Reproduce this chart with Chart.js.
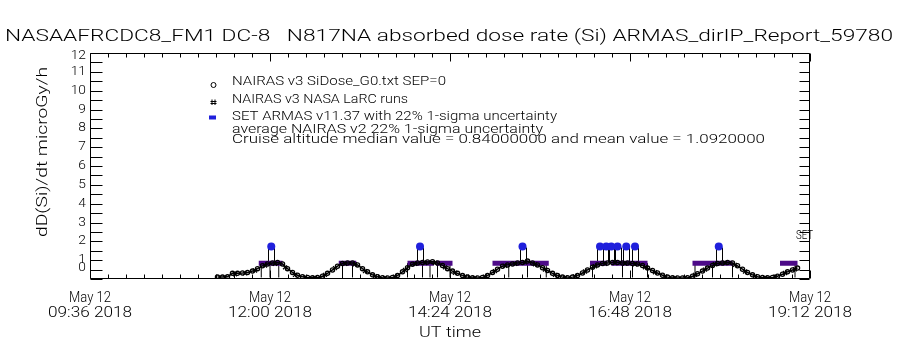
<!DOCTYPE html>
<html><head><meta charset="utf-8">
<style>html,body{margin:0;padding:0;background:#fff}canvas{display:block}</style>
<script src="https://cdn.jsdelivr.net/npm/chart.js@4.4.1/dist/chart.umd.min.js"></script>
</head><body><canvas id="c" width="900" height="350"></canvas>
<script>
// ---- data (time in minutes UT since 00:00, dose in microGy/h) ----
const titleText = "NASAAFRCDC8_FM1 DC-8   N817NA absorbed dose rate (Si) ARMAS_dirIP_Report_59780";
const xTickValues = [576, 720, 864, 1008, 1152];
const xTickLine1 = ["May 12", "May 12", "May 12", "May 12", "May 12"];
const xTickLine2 = ["09:36 2018", "12:00 2018", "14:24 2018", "16:48 2018", "19:12 2018"];
const yTickValues = [0,1,2,3,4,5,6,7,8,9,10,11,12];
const yTickLabels = ["0","1","2","3","4","5","6","7","8","9","10","11","12"];

const nairasTime = [678,682,686,690,694,698,702,706,710,714,
718,722,726,730,734,738,742,746,750,754,
758,762,766,770,774,778,782,786,790,794,
798,802,806,810,814,818,822,826,830,834,
838,842,846,850,854,858,862,866,870,874,
878,882,886,890,894,898,902,906,910,914,
918,922,926,930,934,938,942,946,950,954,
958,962,966,970,974,978,982,986,990,994,
998,1002,1006,1010,1014,1018,1022,1026,1030,1034,
1038,1042,1046,1050,1054,1058,1062,1066,1070,1074,
1078,1082,1086,1090,1094,1098,1102,1106,1110,1114,
1118,1122,1126,1130,1134,1138,1142];
const nairasDose = [0.10,0.10,0.12,0.30,0.30,0.32,0.35,0.42,0.55,0.70,
0.80,0.85,0.88,0.80,0.55,0.35,0.20,0.12,0.08,0.06,
0.08,0.15,0.30,0.48,0.68,0.82,0.85,0.85,0.75,0.55,
0.38,0.22,0.12,0.07,0.05,0.08,0.18,0.38,0.60,0.78,
0.85,0.88,0.90,0.92,0.85,0.72,0.55,0.42,0.30,0.18,
0.10,0.06,0.05,0.08,0.18,0.35,0.52,0.68,0.75,0.80,
0.85,0.88,0.95,0.85,0.75,0.60,0.45,0.30,0.18,0.10,
0.06,0.10,0.18,0.32,0.48,0.62,0.75,0.82,0.85,0.88,
0.88,0.85,0.85,0.82,0.80,0.72,0.58,0.45,0.32,0.20,
0.10,0.06,0.05,0.05,0.07,0.15,0.28,0.42,0.58,0.72,
0.82,0.85,0.88,0.85,0.70,0.52,0.35,0.22,0.12,0.08,
0.06,0.08,0.15,0.25,0.38,0.48,0.58];

const larcTime = [684,692,700,708,716,724,732,740,748,756,
764,772,780,788,796,804,812,820,828,836,
844,852,860,868,876,884,892,900,908,916,
924,932,940,948,956,964,972,980,988,996,
1004,1012,1020,1028,1036,1044,1052,1060,1068,1076,
1084,1092,1100,1108,1116,1124,1132,1140];
const larcDose = [0.08,0.25,0.30,0.45,0.72,0.80,0.62,0.22,0.08,0.05,
0.22,0.58,0.80,0.78,0.42,0.15,0.05,0.12,0.48,0.80,
0.85,0.85,0.62,0.33,0.12,0.05,0.12,0.42,0.70,0.80,
0.88,0.78,0.50,0.22,0.07,0.14,0.40,0.68,0.80,0.85,
0.82,0.78,0.62,0.36,0.12,0.05,0.05,0.22,0.50,0.78,
0.85,0.75,0.40,0.15,0.06,0.12,0.32,0.52];

const armasStart = [711,775,830,853,898,976,993,1058,1128];
const armasEnd   = [730,789,851,866,943,990,1022,1090,1142];
const armasDose  = [0.84,0.84,0.84,0.84,0.84,0.84,0.84,0.84,0.84];

const dropTime = [713,720,727,778,786,830,842,848,854,864,911,926,941,978,1002,1010,1022,1060,1074,1090,1140];
const dropLow  = [0.08,0.08,0.08,0.08,0.08,0.08,0.08,0.08,0.08,0.08,0.08,0.08,0.08,0.08,0.08,0.08,0.08,0.08,0.08,0.08,0.08];
const dropHigh = [0.84,0.84,0.84,0.84,0.84,0.84,0.84,0.84,0.84,0.84,0.84,0.84,0.84,0.84,0.84,0.84,0.84,0.84,0.84,0.84,0.84];

const setTime = [721,840,922,984,989,993,998,1005,1012,1079];
const setDose = [1.72,1.72,1.72,1.72,1.72,1.72,1.72,1.72,1.72,1.72];
const setErrLow = 0.9;

const legendLines = [
  "NAIRAS v3 SiDose_G0.txt SEP=0",
  "NAIRAS v3 NASA LaRC runs",
  "SET ARMAS v11.37 with 22% 1-sigma uncertainty",
  "average NAIRAS v2 22% 1-sigma uncertainty",
  "Cruise altitude median value = 0.84000000 and mean value = 1.0920000"
];

// ---- build datasets ----
const armasData = [];
armasStart.forEach((s, i) => {
  armasData.push({x: s, y: armasDose[i]});
  armasData.push({x: armasEnd[i], y: armasDose[i]});
  armasData.push({x: armasEnd[i], y: null});
});
const dropData = [];
dropTime.forEach((t, i) => {
  dropData.push({x: t, y: dropLow[i]});
  dropData.push({x: t, y: dropHigh[i]});
  dropData.push({x: t, y: null});
});

const FONT = 'Roboto, "Liberation Sans", Arial, sans-serif';
function txt(ctx, s, x, y, o) {
  ctx.save();
  ctx.font = '300 ' + (o.size || 13) + 'px ' + FONT;
  ctx.fillStyle = '#000';
  ctx.textAlign = o.align || 'left';
  ctx.textBaseline = o.base || 'middle';
  let sx = o.sx || 1;
  if (o.w) sx = o.w / ctx.measureText(s).width;
  ctx.translate(x, y);
  if (o.rot) ctx.rotate(o.rot);
  ctx.scale(sx, 1);
  ctx.fillText(s, 0, 0);
  ctx.restore();
}

const deco = {
  id: 'deco',
  beforeDatasetsDraw(chart) {
    const {ctx, scales: {x, y}} = chart;
    ctx.save();
    ctx.strokeStyle = '#000';
    ctx.lineWidth = 1;
    setTime.forEach((t, i) => {
      const px = Math.round(x.getPixelForValue(t));
      const y0 = y.getPixelForValue(setErrLow), y1 = y.getPixelForValue(setDose[i] - 0.05);
      [px - 3, px + 3].forEach(xx => {
        ctx.beginPath(); ctx.moveTo(xx + 0.5, y0); ctx.lineTo(xx + 0.5, y1); ctx.stroke();
      });
    });
    ctx.restore();
  },
  afterDatasetsDraw(chart) {
    const {ctx, chartArea: a, scales: {x, y}} = chart;
    const L = Math.round(a.left) + 0.5, R = Math.round(a.right) - 0.5;
    const T = Math.round(a.top) + 0.5, B = Math.round(a.bottom) - 0.5;
    ctx.save();
    ctx.strokeStyle = '#000';
    ctx.lineWidth = 1;
    ctx.beginPath();
    ctx.moveTo(L, T); ctx.lineTo(R, T); ctx.lineTo(R, B); ctx.lineTo(L, B); ctx.closePath();
    ctx.stroke();
    ctx.beginPath();
    const step = (xTickValues[1] - xTickValues[0]) / 10;
    for (let v = x.min; v <= x.max + 0.01; v += step) {
      const px = Math.round(x.getPixelForValue(v)) + 0.5;
      const major = xTickValues.some(m => Math.abs(m - v) < 0.01);
      const len = major ? 8 : 4;
      ctx.moveTo(px, B); ctx.lineTo(px, B - len);
      ctx.moveTo(px, T); ctx.lineTo(px, T + len);
    }
    for (let v = y.min; v <= y.max + 0.001; v += 0.5) {
      const py = Math.round(y.getPixelForValue(v)) + 0.5;
      ctx.moveTo(L, py); ctx.lineTo(L + 12, py);
      ctx.moveTo(R, py); ctx.lineTo(R - 10, py);
    }
    ctx.stroke();
    ctx.restore();
  },
  afterDraw(chart) {
    const {ctx, chartArea: a, scales: {x, y}} = chart;
    txt(ctx, titleText, 5, 37, {size: 16, w: 888});
    yTickValues.forEach((v, i) => {
      let p = y.getPixelForValue(v);
      p = Math.max(a.top + 3, Math.min(a.bottom - 11, p));
      txt(ctx, yTickLabels[i], 86, p, {size: 12.5, sx: 1.1, align: 'right'});
    });
    xTickValues.forEach((v, i) => {
      const px = x.getPixelForValue(v);
      txt(ctx, xTickLine1[i], px, 298, {size: 14, w: 42, align: 'center'});
      txt(ctx, xTickLine2[i], px, 313, {size: 14, w: 84, align: 'center'});
    });
    txt(ctx, 'UT time', 450, 333, {size: 14, w: 62, align: 'center'});
    txt(ctx, 'dD(Si)/dt microGy/h', 43, 152, {size: 14, w: 170, align: 'center', rot: -Math.PI / 2});
    const lw = [214, 176, 325, 311, 533];
    const ly = [82, 100, 117, 130, 140];
    legendLines.forEach((s, i) => txt(ctx, s, 232, ly[i], {size: 12.5, w: lw[i]}));
    txt(ctx, 'SET', 796, 236, {size: 12, w: 17});
    ctx.save();
    ctx.strokeStyle = '#000'; ctx.lineWidth = 1;
    ctx.beginPath(); ctx.arc(213.5, 85, 2.5, 0, Math.PI * 2); ctx.stroke();
    ctx.beginPath();
    ctx.moveTo(212, 99.5); ctx.lineTo(212, 105); ctx.moveTo(215, 99.5); ctx.lineTo(215, 105);
    ctx.moveTo(210.5, 101.5); ctx.lineTo(216.5, 101.5); ctx.moveTo(210.5, 103.5); ctx.lineTo(216.5, 103.5);
    ctx.stroke();
    ctx.fillStyle = '#2020dc';
    ctx.fillRect(209, 115.5, 7, 4);
    ctx.restore();
  }
};

new Chart(document.getElementById('c'), {
  type: 'line',
  data: {
    datasets: [
      {label: 'drop', data: dropData, borderColor: '#000', borderWidth: 1, pointRadius: 0, spanGaps: false, order: 5},
      {label: 'ARMAS', data: armasData, borderColor: '#4c0a88', borderWidth: 5, borderCapStyle: 'butt', pointRadius: 0, spanGaps: false, order: 4},
      {label: 'NAIRAS v3 NASA LaRC runs', data: larcTime.map((t, i) => ({x: t, y: larcDose[i]})), showLine: false,
        pointStyle: 'crossRot', pointRadius: 2.8, pointBorderColor: '#000', pointBorderWidth: 1.3, order: 3},
      {label: 'NAIRAS v3 SiDose', data: nairasTime.map((t, i) => ({x: t, y: nairasDose[i]})), borderColor: '#000', borderWidth: 1.5,
        pointStyle: 'circle', pointRadius: 2.1, pointBorderColor: '#000', pointBackgroundColor: 'rgba(0,0,0,0)', pointBorderWidth: 1.3, tension: 0, order: 2},
      {label: 'SET ARMAS', data: setTime.map((t, i) => ({x: t, y: setDose[i]})), showLine: false,
        pointStyle: 'circle', pointRadius: 4, pointBackgroundColor: '#2020dc', pointBorderColor: '#2020dc', pointBorderWidth: 0, order: 1}
    ]
  },
  options: {
    responsive: false,
    animation: false,
    events: [],
    layout: {padding: {top: 53, right: 90, left: 0, bottom: 0}},
    plugins: {legend: {display: false}, title: {display: false}, tooltip: {enabled: false}},
    scales: {
      x: {type: 'linear', min: 576, max: 1152, offset: false, grid: {display: false}, border: {display: false},
        ticks: {display: false}, afterFit: s => { s.height = 71; },
        afterBuildTicks: s => { s.ticks = xTickValues.map(v => ({value: v})); }},
      y: {type: 'linear', min: 0, max: 12, grid: {display: false}, border: {display: false},
        ticks: {display: false}, afterFit: s => { s.width = 90; },
        afterBuildTicks: s => { s.ticks = yTickValues.map(v => ({value: v})); }}
    }
  },
  plugins: [deco]
});
</script>
</body></html>
